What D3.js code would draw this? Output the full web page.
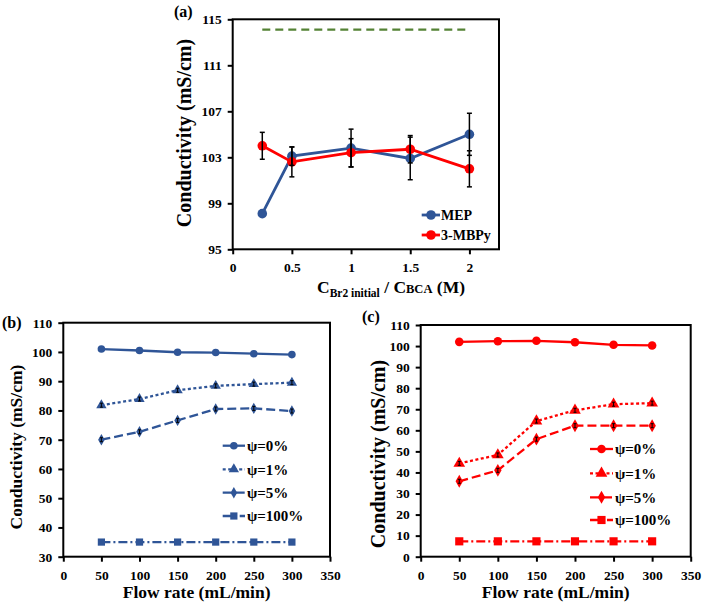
<!DOCTYPE html>
<html><head><meta charset="utf-8">
<script src="https://cdn.jsdelivr.net/npm/d3@7"></script>
<style>
body{margin:0;background:#fff;}
svg{display:block;}
svg text{font-family:"Liberation Serif","Times New Roman",Tinos,serif !important;font-weight:bold;fill:#000;}
</style></head><body>
<svg id="chart" width="702" height="606"></svg>
<script>
// ---------- DATA ----------
// Panel (a)
const ratioX = [0.25, 0.5, 1, 1.5, 2];
const mepValues = [98.1, 103.1, 103.8, 102.9, 105.0];
const mepErrors = [0, 0.8, 1.65, 1.85, 1.83];
const mbpyValues = [104.0, 102.6, 103.4, 103.7, 102.0];
const mbpyErrors = [1.17, 1.3, 1.22, 1.19, 1.57];
const refLineX = [0.25, 2];
const refLineValue = 114.1;
const aXTicks = [0, 0.5, 1, 1.5, 2];
const aYTicks = [95, 99, 103, 107, 111, 115];
const aSeriesNames = ["MEP", "3-MBPy"];

// Panels (b) and (c)
const flowRates = [50, 100, 150, 200, 250, 300];
const psiLabels = ["\u03c8=0%", "\u03c8=1%", "\u03c8=5%", "\u03c8=100%"];
const bPsi0 = [101.0, 100.5, 99.9, 99.8, 99.4, 99.1];
const bPsi1 = [81.8, 83.9, 86.9, 88.4, 89.0, 89.5];
const bPsi5 = [70.0, 72.7, 76.6, 80.5, 80.7, 79.8];
const bPsi100 = [35.0, 35.0, 35.0, 35.0, 35.0, 35.0];
const cPsi0 = [102.0, 102.3, 102.5, 101.8, 100.6, 100.3];
const cPsi1 = [44.3, 48.3, 64.4, 69.5, 72.4, 72.9];
const cPsi5 = [35.8, 41.0, 55.8, 62.2, 62.2, 62.2];
const cPsi100 = [7.3, 7.3, 7.3, 7.3, 7.3, 7.3];
const flowTicks = [0, 50, 100, 150, 200, 250, 300, 350];
const bYTicks = [30, 40, 50, 60, 70, 80, 90, 100, 110];
const cYTicks = [0, 10, 20, 30, 40, 50, 60, 70, 80, 90, 100, 110];

// ---------- DRAW ----------
const FONT = '"Liberation Serif","Times New Roman",Tinos,serif';
const svg = d3.select("#chart");
const BLUE = "#2F5597", RED = "#FF0000", GREEN = "#548235";

function frame(g, x, y, xTicks, yTicks, xFmt, fs) {
  const [x0, x1] = x.range(), [y0, y1] = y.range();
  const xa = g.append("g").attr("transform", `translate(0,${y0})`)
    .call(d3.axisBottom(x).tickValues(xTicks).tickSize(5).tickSizeOuter(0).tickFormat(xFmt));
  const ya = g.append("g").attr("transform", `translate(${x0},0)`)
    .call(d3.axisLeft(y).tickValues(yTicks).tickSize(5).tickSizeOuter(0));
  [xa, ya].forEach(a => {
    a.attr("font-family", FONT).attr("font-size", fs).attr("font-weight", "bold");
    a.select(".domain").remove();
    a.selectAll(".tick line").attr("stroke", "#000").attr("stroke-width", 2);
    a.selectAll(".tick text").style("font-size", fs + "px");
  });
  xa.selectAll(".tick text").attr("dy", "1.1em");
  ya.selectAll(".tick text").attr("x", -11);
  g.append("rect").attr("x", x0).attr("y", y1).attr("width", x1 - x0).attr("height", y0 - y1)
    .attr("fill", "none").attr("stroke", "#000").attr("stroke-width", 2);
}

function marker(sel, type, cx, cy, s, color) {
  if (type === "circle") return sel.append("circle").attr("cx", cx).attr("cy", cy).attr("r", s).attr("fill", color);
  let sym;
  if (type === "triangle") sym = d3.symbol(d3.symbolTriangle, s * s * 3.2);
  if (type === "diamond") sym = d3.symbol(d3.symbolDiamond, s * s * 2.6);
  if (type === "square") sym = d3.symbol(d3.symbolSquare, s * s * 3.6);
  return sel.append("path").attr("d", sym()).attr("transform", `translate(${cx},${cy})`).attr("fill", color);
}

// ----- Panel (a) -----
{
  const x = d3.scaleLinear().domain([0, 2.25]).range([232.7, 499]);
  const y = d3.scaleLinear().domain([95, 115]).range([249.3, 19.3]);
  const g = svg.append("g");
  frame(g, x, y, aXTicks, aYTicks, d3.format("~g"), 13.5);
  g.append("line").attr("x1", x(refLineX[0])).attr("x2", x(refLineX[1]))
    .attr("y1", y(refLineValue)).attr("y2", y(refLineValue))
    .attr("stroke", GREEN).attr("stroke-width", 2.2).attr("stroke-dasharray", "8,5");
  const series = [
    {vals: mepValues, errs: mepErrors, color: BLUE},
    {vals: mbpyValues, errs: mbpyErrors, color: RED}
  ];
  const line = d3.line().x((d, i) => x(ratioX[i])).y(d => y(d));
  series.forEach(s => {
    g.append("path").datum(s.vals).attr("d", line).attr("fill", "none")
      .attr("stroke", s.color).attr("stroke-width", 2.8);
  });
  series.forEach(s => {
    s.vals.forEach((v, i) => marker(g, "circle", x(ratioX[i]), y(v), 4.8, s.color));
  });
  series.forEach(s => {
    s.vals.forEach((v, i) => {
      const e = s.errs[i]; if (!e) return;
      const cx = x(ratioX[i]);
      g.append("line").attr("x1", cx).attr("x2", cx).attr("y1", y(v - e)).attr("y2", y(v + e))
        .attr("stroke", "#000").attr("stroke-width", 1.5);
      [v - e, v + e].forEach(t => g.append("line").attr("x1", cx - 2.5).attr("x2", cx + 2.5)
        .attr("y1", y(t)).attr("y2", y(t)).attr("stroke", "#000").attr("stroke-width", 1.5));
    });
  });
  const ly = [215, 235];
  series.forEach((s, i) => {
    g.append("line").attr("x1", 421.7).attr("x2", 440).attr("y1", ly[i]).attr("y2", ly[i])
      .attr("stroke", s.color).attr("stroke-width", 2.8);
    marker(g, "circle", 431, ly[i], 4.8, s.color);
    g.append("text").attr("x", 441).attr("y", ly[i]).attr("dy", "0.35em")
      .style("font-size", "14px").text(aSeriesNames[i]);
  });
  g.append("text").attr("transform", "translate(191,133) rotate(-90)").attr("text-anchor", "middle")
    .style("font-size", "20px").text("Conductivity (mS/cm)");
  const t = g.append("text").attr("x", 391).attr("y", 293).attr("text-anchor", "middle").style("font-size", "17.5px");
  t.append("tspan").text("C");
  t.append("tspan").style("font-size", "11.5px").attr("dy", 4).text("Br2 initial");
  t.append("tspan").attr("dy", -4).text("  / C");
  t.append("tspan").style("font-size", "12.5px").text("BCA");
  t.append("tspan").text(" (M)");
  g.append("text").attr("x", 174).attr("y", 17).style("font-size", "16px").text("(a)");
}

// ----- Panels (b) and (c) -----
const styles = [
  {type: "circle", dash: null},
  {type: "triangle", dash: "3,2.5"},
  {type: "diamond", dash: "9,4"},
  {type: "square", dash: "9,3,2,3"}
];
function flowPanel(opts) {
  const x = d3.scaleLinear().domain([0, 350]).range(opts.xr);
  const y = d3.scaleLinear().domain(opts.yd).range(opts.yr);
  const g = svg.append("g");
  frame(g, x, y, flowTicks, opts.yTicks, d3.format("d"), 13.5);
  const line = d3.line().x((d, i) => x(flowRates[i])).y(d => y(d));
  opts.series.forEach((vals, k) => {
    g.append("path").datum(vals).attr("d", line).attr("fill", "none")
      .attr("stroke", opts.color).attr("stroke-width", 2.3)
      .attr("stroke-dasharray", styles[k].dash);
  });
  opts.series.forEach((vals, k) => {
    vals.forEach((v, i) => {
      marker(g, styles[k].type, x(flowRates[i]), y(v), opts.ms, opts.color);
      if (k === 1 || k === 2) {
        const cx = x(flowRates[i]);
        g.append("line").attr("x1", cx).attr("x2", cx).attr("y1", y(v) - 2).attr("y2", y(v) + 2)
          .attr("stroke", "#000").attr("stroke-width", 1);
        [-2, 2].forEach(dd => g.append("line").attr("x1", cx - 1.5).attr("x2", cx + 1.5)
          .attr("y1", y(v) + dd).attr("y2", y(v) + dd).attr("stroke", "#000").attr("stroke-width", 1));
      }
    });
  });
  opts.legendY.forEach((ly, k) => {
    g.append("line").attr("x1", opts.legX[0]).attr("x2", opts.legX[1]).attr("y1", ly).attr("y2", ly)
      .attr("stroke", opts.color).attr("stroke-width", 2.3).attr("stroke-dasharray", styles[k].dash);
    marker(g, styles[k].type, (opts.legX[0] + opts.legX[1]) / 2, ly, opts.ms, opts.color);
    g.append("text").attr("x", opts.legX[1] + 2).attr("y", ly).attr("dy", "0.35em")
      .style("font-size", "15px").text(psiLabels[k]);
  });
  g.append("text").attr("transform", `translate(${opts.yTitle[0]},${opts.yTitle[1]}) rotate(-90)`)
    .attr("text-anchor", "middle").style("font-size", opts.yTitleSize + "px").text("Conductivity (mS/cm)");
  g.append("text").attr("x", (opts.xr[0] + opts.xr[1]) / 2).attr("y", 598).attr("text-anchor", "middle")
    .style("font-size", "17.5px").text("Flow rate (mL/min)");
  g.append("text").attr("x", opts.tag[0]).attr("y", opts.tag[1]).style("font-size", "16px").text(opts.tagText);
}
flowPanel({
  xr: [63.3, 330], yd: [30, 110], yr: [556.7, 322.7], yTicks: bYTicks, color: BLUE, ms: 3.8,
  series: [bPsi0, bPsi1, bPsi5, bPsi100],
  legX: [222.7, 245], legendY: [445.7, 469.3, 492.7, 516],
  yTitle: [21.5, 447], yTitleSize: 17.5, tag: [2, 328], tagText: "(b)"
});
flowPanel({
  xr: [420.7, 690.7], yd: [0, 110], yr: [556.7, 325], yTicks: cYTicks, color: RED, ms: 4.3,
  series: [cPsi0, cPsi1, cPsi5, cPsi100],
  legX: [590, 613], legendY: [449, 473.3, 497.3, 520],
  yTitle: [385, 454], yTitleSize: 20, tag: [362, 322], tagText: "(c)"
});
</script>
</body></html>
